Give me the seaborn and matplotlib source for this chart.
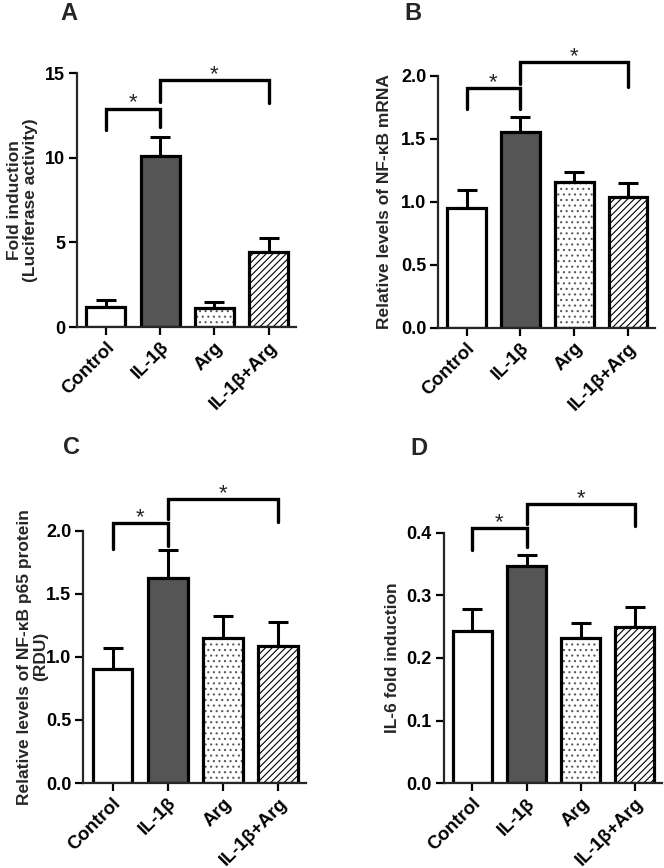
import numpy as np
import pandas as pd
import matplotlib
matplotlib.use("Agg")
import matplotlib.pyplot as plt
import seaborn as sns

sns.set_style("ticks")
plt.rcParams["font.family"] = ["Liberation Sans", "DejaVu Sans"]
plt.rcParams["font.weight"] = "bold"
plt.rcParams["hatch.linewidth"] = 0.8

# grupos
groups = ["Control", "IL-1β", "Arg", "IL-1β+Arg"]
bar_colors = ["white", "#555555", "white", "white"]
bar_hatches = [None, None, "...", "/////"]

# A - luciferase
luc_mean = [1.18, 10.1, 1.1, 4.45]
luc_sem = [0.42, 1.15, 0.35, 0.8]
# B - NF-kB mRNA
mrna_mean = [0.955, 1.553, 1.156, 1.04]
mrna_sem = [0.14, 0.125, 0.085, 0.113]
# C - p65 protein
p65_mean = [0.90, 1.622, 1.149, 1.083]
p65_sem = [0.167, 0.224, 0.177, 0.195]
# D - IL-6
il6_mean = [0.2425, 0.347, 0.232, 0.249]
il6_sem = [0.0365, 0.018, 0.024, 0.033]

# brackets de significancia: (de, ate, altura, perna esq, perna dir)
sig_a = [(0, 1, 12.9, 11.65, 11.8), (1, 3, 14.6, 13.3, 13.2)]
sig_b = [(0, 1, 1.903, 1.736, 1.736), (1, 3, 2.11, 1.94, 1.91)]
sig_c = [(0, 1, 2.058, 1.854, 1.88), (1, 3, 2.25, 2.09, 2.066)]
sig_d = [(0, 1, 0.407, 0.372, 0.377), (1, 3, 0.446, 0.414, 0.411)]


def painel(ax, means, sems, ylabel, yticks, fmt, brackets, label_x):
    df = pd.DataFrame({"grupo": groups, "valor": means})
    sns.barplot(data=df, x="grupo", y="valor", hue="grupo", order=groups,
                palette=dict(zip(groups, bar_colors)), legend=False,
                width=0.72, edgecolor="black", linewidth=2.3, ax=ax, zorder=2)
    for cont, h in zip(ax.containers, bar_hatches):
        for bar in cont:
            if h:
                bar.set_hatch(h)
                if h.startswith("."):
                    # pontos cinza como no original
                    bar._hatch_color = (0.35, 0.35, 0.35, 1.0)
    ax.errorbar(np.arange(len(groups)), means, yerr=[np.zeros(len(groups)), sems],
                fmt="none", ecolor="black", elinewidth=2.2, capsize=7.5,
                capthick=2.2, zorder=1)

    # brackets com asterisco
    for x0, x1, h, l0, l1 in brackets:
        ax.plot([x0, x0, x1, x1], [l0, h, h, l1], color="black", lw=2.4,
                clip_on=False, solid_joinstyle="miter")
        ax.text((x0 + x1) / 2, h, "*", ha="center", va="baseline",
                fontsize=16, fontweight="normal", clip_on=False)

    ax.set_ylim(yticks[0], yticks[-1])
    ax.set_xlim(-0.53, 3.5)
    ax.set_yticks(yticks)
    ax.set_yticklabels([fmt.format(t) for t in yticks], fontsize=13,
                       fontweight="bold")
    ax.set_xticks(range(len(groups)))
    ax.set_xticklabels(groups, rotation=45, ha="right", rotation_mode="anchor",
                       fontsize=13.5, fontweight="bold")
    ax.set_xlabel("")
    ax.set_ylabel(ylabel, fontsize=12.5, fontweight="bold", linespacing=1.05)
    ax.yaxis.set_label_coords(label_x, 0.5)
    for s in ["top", "right"]:
        ax.spines[s].set_visible(False)
    for s in ["left", "bottom"]:
        ax.spines[s].set_linewidth(1.6)
    ax.tick_params(axis="both", direction="out", length=5.5, width=1.6, pad=3,
                   colors="black")


fig = plt.figure(figsize=(6.64, 8.68), dpi=100)
W, H = 664, 868


def eixo(l, r, t, b):
    return fig.add_axes([l / W, 1 - b / H, (r - l) / W, (b - t) / H])


ax_a = eixo(77, 296, 73, 327)
ax_b = eixo(438, 655, 76, 327.7)
ax_c = eixo(83.3, 306, 530.7, 783)
ax_d = eixo(443.7, 662, 532.7, 783.3)

painel(ax_a, luc_mean, luc_sem, "Fold induction\n(Luciferase activity)",
       [0, 5, 10, 15], "{:.0f}", sig_a, -0.178)
painel(ax_b, mrna_mean, mrna_sem, "Relative levels of NF-κB mRNA",
       [0, 0.5, 1.0, 1.5, 2.0], "{:.1f}", sig_b, -0.212)
painel(ax_c, p65_mean, p65_sem, "Relative levels of NF-κB p65 protein\n(RDU)",
       [0, 0.5, 1.0, 1.5, 2.0], "{:.1f}", sig_c, -0.159)
painel(ax_d, il6_mean, il6_sem, "IL-6 fold induction",
       [0, 0.1, 0.2, 0.3, 0.4], "{:.1f}", sig_d, -0.200)

# letras dos paineis
for letra, x, y in [("A", 60, 14), ("B", 404, 14), ("C", 63, 448), ("D", 410, 449)]:
    fig.text(x / W, 1 - y / H, letra, ha="left", va="center", fontsize=17,
             fontweight="bold")

fig.savefig("out.png", dpi=100)
